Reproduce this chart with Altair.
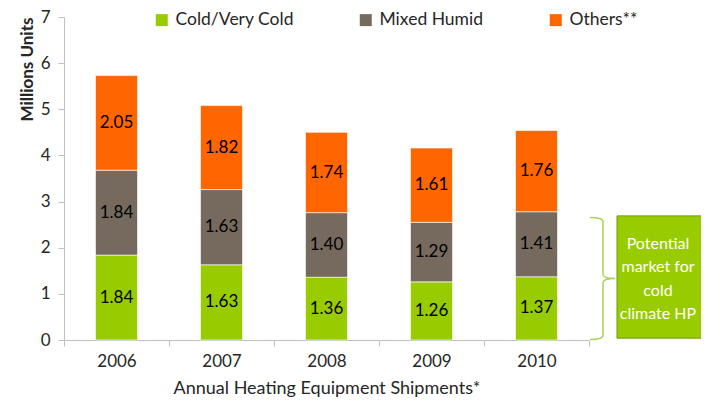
import altair as alt
import pandas as pd

years = ["2006", "2007", "2008", "2009", "2010"]
series = ["Cold/Very Cold", "Mixed Humid", "Others**"]
cold = [1.84, 1.63, 1.36, 1.26, 1.37]
mixed = [1.84, 1.63, 1.40, 1.29, 1.41]
others = [2.05, 1.82, 1.74, 1.61, 1.76]
colors = ["#99cc00", "#766a5e", "#ff6600"]
y_ticks = [0, 1, 2, 3, 4, 5, 6, 7]
note_lines = ["Potential", "market for", "cold", "climate HP"]
bracket_mid = 1.335
note_first_line = 2.09
box_top = 2.69
box_bottom = 0.04

rows = []
for i, (s, vals) in enumerate(zip(series, [cold, mixed, others])):
    for yr, v in zip(years, vals):
        rows.append({"year": yr, "series": s, "idx": i, "v": v})
df = pd.DataFrame(rows)

FONT = "Lato"
TXT = "#262626"
AX = "#bfbfbf"

base = alt.Chart(df).transform_stack(
    stack="v", groupby=["year"], as_=["v0", "v1"],
    sort=[alt.SortField("idx", order="ascending")]
).transform_calculate(mid="(datum.v0 + datum.v1) / 2")

x_enc = alt.X(
    "year:N",
    sort=years,
    scale=alt.Scale(paddingInner=0, paddingOuter=0),
    title="Annual Heating Equipment Shipments*",
    axis=alt.Axis(
        labelAngle=0, tickBand="extent", tickSize=6, tickColor=AX,
        domainColor=AX, labelFontSize=17, labelColor=TXT, labelPadding=7,
        titleFontSize=18, titleFontWeight="normal", titleColor=TXT,
        titleY=53, titleBaseline="alphabetic", grid=False,
    ),
)
y_scale = alt.Scale(domain=[0, 7], nice=False)

bars = base.mark_bar(size=42, stroke="white", strokeWidth=0.6).encode(
    x=x_enc,
    y=alt.Y(
        "v0:Q", scale=y_scale, title="Millions Units",
        axis=alt.Axis(
            values=y_ticks, tickSize=6, tickColor=AX, domainColor=AX,
            labelFontSize=17, labelColor=TXT, labelPadding=8, grid=False,
            titleFontSize=17, titleFontWeight="bold", titleColor=TXT,
            titleAngle=270, titleX=-37, titleY=0, titleAlign="right",
            titleBaseline="middle",
        ),
    ),
    y2="v1:Q",
    color=alt.Color(
        "series:N",
        scale=alt.Scale(domain=series, range=colors),
        legend=alt.Legend(
            orient="none", legendX=89, legendY=-6, direction="horizontal",
            title=None, symbolType="square", symbolSize=144,
            symbolStrokeWidth=0, labelFontSize=17.5, labelColor=TXT,
            columnPadding=63, labelOffset=5,
        ),
    ),
    order=alt.Order("idx:Q"),
)

labels = base.mark_text(fontSize=17, color="black", font=FONT).encode(
    x=alt.X("year:N", sort=years),
    y=alt.Y("mid:Q"),
    text=alt.Text("v:Q", format=".2f"),
)

ann = alt.Chart(pd.DataFrame({"a": [0]}))

brace_path = ("M -0.21 -1 Q 0 -1 0 -0.93 L 0 -0.07 Q 0 0 0.2 0 "
              "Q 0 0 0 0.07 L 0 0.93 Q 0 1 -0.21 1")
brace = ann.mark_point(
    shape=brace_path, size=14884, filled=False, stroke="#a9d350",
    strokeWidth=1.5, opacity=1,
).encode(x=alt.value(539), y=alt.datum(bracket_mid))

box = ann.mark_rect(fill="#99cc00", stroke="#6f9900", strokeWidth=1).encode(
    x=alt.value(553), x2=alt.value(660),
    y=alt.datum(box_top), y2=alt.datum(box_bottom),
)

box_text = ann.mark_text(
    font=FONT, fontSize=16, color="white", lineHeight=23.5,
    align="center", baseline="middle",
).encode(x=alt.value(594), y=alt.datum(note_first_line), text=alt.value(note_lines))

chart = alt.layer(bars, labels, brace, box, box_text).properties(
    width=525, height=323,
    autosize=alt.AutoSizeParams(type="none"),
    padding={"left": 56, "top": 9, "right": 112, "bottom": 58},
).configure(font=FONT).configure_view(stroke=None)

chart.save("out.html", embed_options={"renderer": "svg", "actions": False})
